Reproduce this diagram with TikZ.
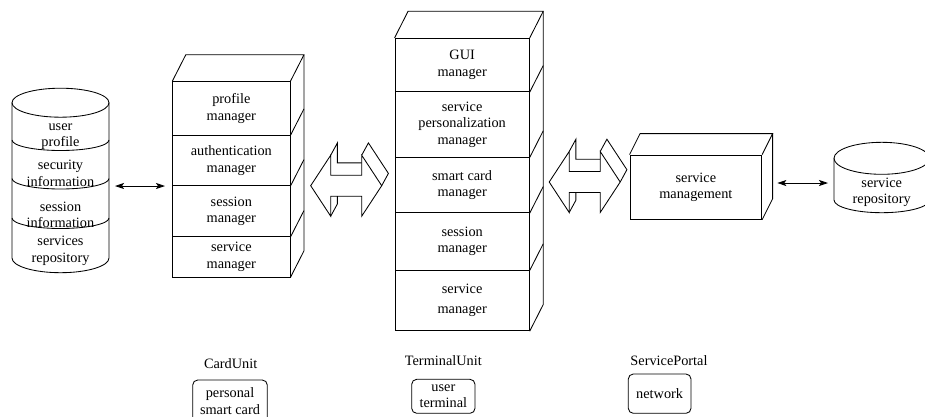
\documentclass[tikz,border=0pt]{standalone}
\usepackage{fontspec}
\setmainfont{Liberation Serif}
\usetikzlibrary{arrows.meta}
\begin{document}
\begin{tikzpicture}[x=1pt,y=-1pt,
  line width=0.85pt,
  every node/.style={font=\fontsize{14.3}{16.5}\selectfont, align=center, inner sep=0pt},
  cardsec/.style={draw, minimum width=117.3pt, minimum height=#1},
  termsec/.style={draw, minimum width=134.3pt, minimum height=#1},
  unitbox/.style={draw, rounded corners=5pt, minimum width=#1},
  link/.style={{Stealth[length=9pt,width=6pt,inset=2pt]}-{Stealth[length=9pt,width=6pt,inset=2pt]}},
  bigarrow/.pic={
    \draw[line join=miter] (-35.5,0) -- (-15.5,-30.5) -- (-15.5,-10.5) -- (15.5,-10.5) -- (15.5,-30.5) -- (35.5,0) -- (15.5,30.5) -- (15.5,10.5) -- (-15.5,10.5) -- (-15.5,30.5) -- cycle;
    \draw (-15.5,-30.5) -- (-8.8,-42.8) -- (-8.8,-22.8) -- (15.5,-22.8);
    \draw (15.5,-30.5) -- (22.2,-42.8) -- (42.2,-12.3) -- (35.5,0);
    \draw (-15.5,30.5) -- (-8.8,18.2) -- (-8.8,10.5);
  }]
\useasboundingbox (0,0) rectangle (925,416);

% ---------- left database cylinder ----------
\draw (60.5,102.7) ellipse [x radius=48.5, y radius=14.5];
\draw (12,102.7) -- (12,258) arc[start angle=180, end angle=0, x radius=48.5, y radius=14.7] -- (109,102.7);
\draw (12,140) arc[start angle=180, end angle=0, x radius=48.5, y radius=10.5];
\draw (12,178.5) arc[start angle=180, end angle=0, x radius=48.5, y radius=10.5];
\draw (12,218) arc[start angle=180, end angle=0, x radius=48.5, y radius=10.5];
\node (db1) at (60.5,136.7) {user\\profile};
\node (db2) at (60.5,173.3) {security\\information};
\node (db3) at (60.5,214.7) {session\\information};
\node (db4) at (60.5,251) {services\\repository};
\coordinate (dbR) at (115,186);
\coordinate (cuL) at (165,186);
\draw[link] (dbR) -- (cuL);

% ---------- CardUnit stack ----------
\node[cardsec=53.3pt] (c1) at (231.35,108.35) {profile\\manager};
\node[cardsec=50.7pt] (c2) at (231.35,160.35) {authentication\\manager};
\node[cardsec=51pt]   (c3) at (231.35,211.2) {session\\manager};
\node[cardsec=40.3pt] (c4) at (231.35,256.85) {service\\manager};
\draw (c1.north west) -- ([shift={(13.5,-26.5)}]c1.north west) -- ([shift={(13.5,-26.5)}]c1.north east) -- (c1.north east);
\draw ([shift={(13.5,-26.5)}]c1.north east) -- ([shift={(13.5,-26.5)}]c4.south east) -- (c4.south east);
\foreach \s in {c1,c2,c3} \draw (\s.south east) -- ([shift={(13.5,-26.5)}]\s.south east);

% ---------- big arrows ----------
\pic (arr1) at (346.2,185.7) {bigarrow};
\pic (arr2) at (584.7,182) {bigarrow};

% ---------- TerminalUnit stack ----------
\node[termsec=53.4pt] (t1) at (462.15,65) {GUI\\manager};
\node[termsec=65.3pt] (t2) at (462.15,124.35) {service\\personalization\\manager};
\node[termsec=55.7pt] (t3) at (462.15,184.85) {smart card\\manager};
\node[termsec=57.3pt] (t4) at (462.15,241.35) {session\\manager};
\node[termsec=60.7pt] (t5) at (462.15,300.35) {service\\[3pt]manager};
\draw (t1.north west) -- ([shift={(13.5,-26.6)}]t1.north west) -- ([shift={(13.5,-26.6)}]t1.north east) -- (t1.north east);
\draw ([shift={(13.5,-26.6)}]t1.north east) -- ([shift={(13.5,-26.6)}]t5.south east) -- (t5.south east);
\foreach \s in {t1,t2,t3,t4} \draw (\s.south east) -- ([shift={(13.5,-26.6)}]\s.south east);

% ---------- service management box ----------
\node[draw, minimum width=131.7pt, minimum height=64.3pt] (sm) at (695.85,187.15) {service\\management};
\draw (sm.north west) -- ([shift={(10.5,-21)}]sm.north west) -- ([shift={(10.5,-21)}]sm.north east) -- (sm.north east);
\draw ([shift={(10.5,-21)}]sm.north east) -- ([shift={(10.5,-21)}]sm.south east) -- (sm.south east);

% ---------- service repository cylinder ----------
\draw (881.7,158.3) ellipse [x radius=47.7, y radius=16];
\draw (834,158.3) -- (834,200) arc[start angle=180, end angle=0, x radius=47.7, y radius=12.7] -- (929.4,158.3);
\node (rep) at (881.7,192.2) {service\\repository};
\coordinate (smR) at (777.3,183);
\coordinate (repL) at (828,183);
\draw[link] (smR) -- (repL);

% ---------- unit labels ----------
\node (lcu) at (230.7,363.3) {CardUnit};
\node (ltu) at (443.3,360.7) {TerminalUnit};
\node (lsp) at (669,360.7) {ServicePortal};
\node[unitbox=74.6pt, minimum height=42pt] (bcu) at (230,401) {personal\\smart card};
\node[unitbox=63.3pt, minimum height=34pt] (btu) at (443.35,396.3) {user\\terminal};
\node[unitbox=62.7pt, minimum height=39.3pt] (bsp) at (659.65,393.65) {network};
\end{tikzpicture}
\end{document}
